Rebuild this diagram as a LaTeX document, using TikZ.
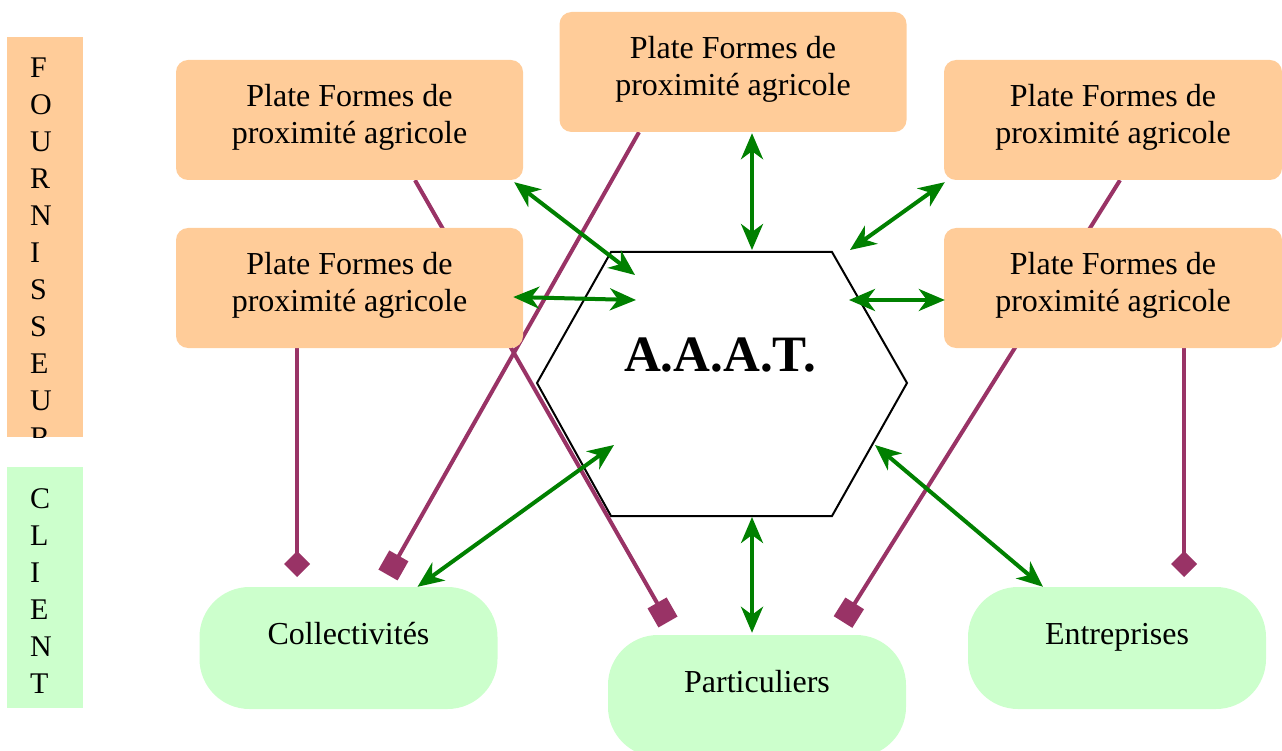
\documentclass[tikz,border=0pt]{standalone}
\usepackage{fontspec}
\setmainfont{Liberation Serif}
\usepackage{tikz}
\usetikzlibrary{arrows.meta,backgrounds}
\definecolor{plateorange}{HTML}{FFCC99}
\definecolor{clientgreen}{HTML}{CCFFCC}
\definecolor{linkgreen}{HTML}{008000}
\definecolor{tiepurple}{HTML}{993366}

\begin{document}
\begin{tikzpicture}[x=1pt,y=-1pt,>={Stealth[length=26pt,width=22pt,inset=8pt]}]
		\tikzstyle{plate}=[fill=plateorange,rounded corners=12pt,align=center,minimum width=347pt,minimum height=120pt,text depth=13pt,font=\fontsize{32}{37}\selectfont]
		\tikzstyle{client}=[fill=clientgreen,rounded corners=50pt,minimum width=298pt,minimum height=122pt,text height=22pt,text depth=30pt,font=\fontsize{32}{37}\selectfont]
		\tikzstyle{bar}=[inner sep=0pt,minimum width=76pt]
		\tikzstyle{letters}=[inner sep=0pt,anchor=north west,align=left,font=\fontsize{30}{37}\selectfont]
		\tikzstyle{link}=[<->,linkgreen,line width=4pt]
		\tikzstyle{tie}=[tiepurple,line width=4pt]
		
		\useasboundingbox (0,0) rectangle (1282,751);
		
		% side bars
		\begin{pgfonlayer}{background}
		\node[bar,fill=plateorange,minimum height=400pt] (fourn) at (45,237) {};
		\node[bar,fill=clientgreen,minimum height=241pt] (client) at (45,587.5) {};
		\draw[line width=2pt,fill=white] (537,383) -- (611,252) -- (832,252) -- (907,383) -- (832,516) -- (611,516) -- cycle;
		\end{pgfonlayer}
		\begin{scope}
		\clip (fourn.north west) rectangle (fourn.south east);
		\node[letters] (fournlbl) at (30,58) {F\\O\\U\\R\\N\\I\\S\\S\\E\\U\\R};
		\end{scope}
		\node[letters] (clientlbl) at (30,488) {C\\L\\I\\E\\N\\T};
		
		\node[font=\fontsize{51}{60}\selectfont\bfseries] (aaat) at (720,355.5) {A.A.A.T.};
		\coordinate (hx1) at (635,275);
		\coordinate (hx2) at (636,300);
		\coordinate (hx3) at (752,250);
		\coordinate (hx4) at (850,250);
		\coordinate (hx5) at (849,300);
		\coordinate (hx6) at (614,445);
		\coordinate (hx7) at (752,517);
		\coordinate (hx8) at (875,445);
		
		% platforms
		\node[plate] (plTL) at (349.5,120) {Plate Formes de\\proximité agricole};
		\node[plate] (plML) at (349.5,288) {Plate Formes de\\proximité agricole};
		\node[plate] (plTC) at (733,72) {Plate Formes de\\proximité agricole};
		\node[plate,minimum width=338pt] (plTR) at (1113,120) {Plate Formes de\\proximité agricole};
		\node[plate,minimum width=338pt] (plMR) at (1113,288) {Plate Formes de\\proximité agricole};
		
		% clients
		\node[client] (cliCol) at (348.5,648) {Collectivités};
		\node[client] (cliPart) at (757,696) {Particuliers};
		\node[client] (cliEnt) at (1117,648) {Entreprises};
		
		\coordinate (tie1) at (668,622);
		\coordinate (tie2) at (388,575);
		\coordinate (tie3) at (843,622);
		\coordinate (tie4) at (297,577);
		\coordinate (tie5) at (1184,577);
		
		\begin{pgfonlayer}{background}
		\draw[tie,-{Square[length=22pt,width=22pt]}] ([xshift=65.5pt]plTL.south) -- (tie1);
		\draw[tie,-{Square[length=22pt,width=22pt]}] ([xshift=-94pt]plTC.south) -- (tie2);
		\draw[tie,-{Square[length=22pt,width=22pt]}] ([xshift=7pt]plTR.south) -- (tie3);
		\draw[tie,-{Turned Square[length=26pt,width=26pt]}] ([xshift=-52.5pt]plML.south) -- (tie4);
		\draw[tie,-{Turned Square[length=26pt,width=26pt]}] ([xshift=71pt]plMR.south) -- (tie5);
		\end{pgfonlayer}
		
		\draw[link] ([xshift=-9pt,yshift=-2pt]plTL.south east) -- (hx1);
		\draw[link] ([xshift=-10pt,yshift=-9pt]plML.east) -- (hx2);
		\draw[link] ([xshift=19pt,yshift=-1pt]plTC.south) -- (hx3);
		\draw[link] ([xshift=1pt,yshift=-2pt]plTR.south west) -- (hx4);
		\draw[link] ([xshift=1pt,yshift=-12pt]plMR.west) -- (hx5);
		\draw[link] ([xshift=69pt]cliCol.north) -- (hx6);
		\draw[link] ([xshift=-5pt,yshift=2pt]cliPart.north) -- (hx7);
		\draw[link] ([xshift=-74pt]cliEnt.north) -- (hx8);
		
		\end{tikzpicture}
\end{document}
